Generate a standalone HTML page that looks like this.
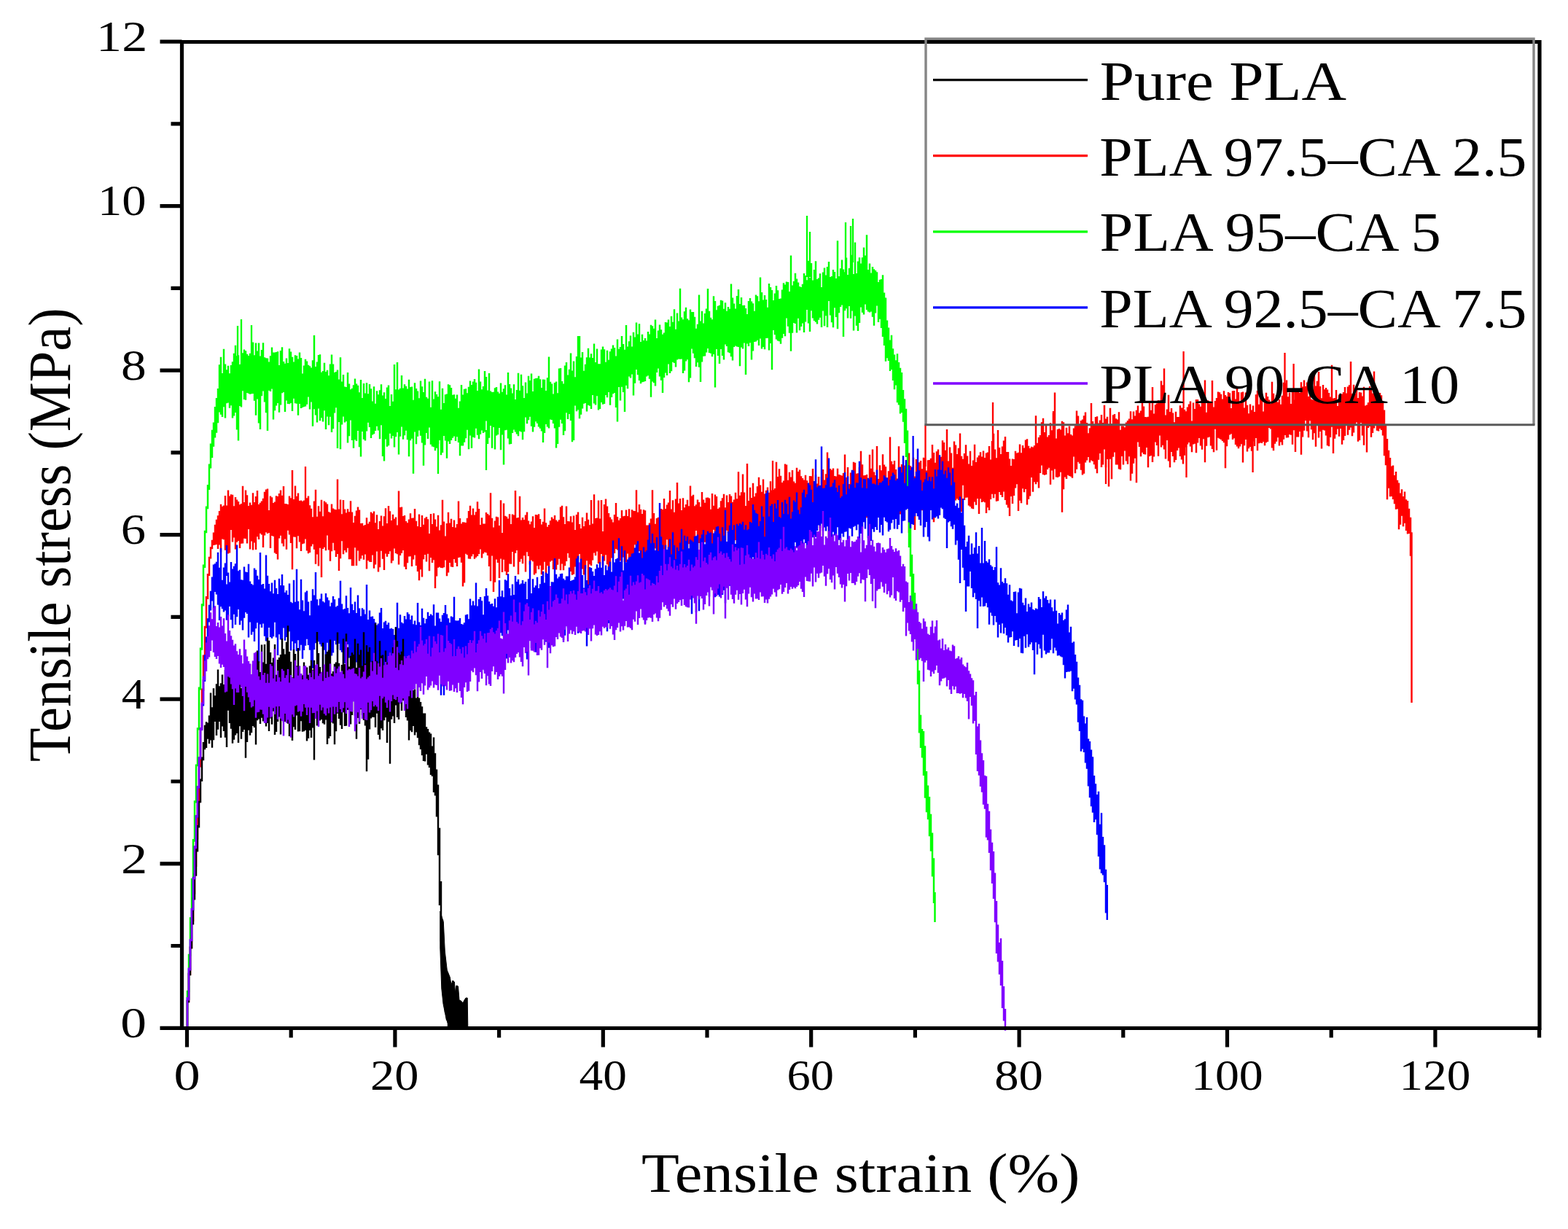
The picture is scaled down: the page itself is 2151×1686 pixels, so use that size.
<!DOCTYPE html>
<html><head><meta charset="utf-8"><title>Tensile stress-strain curves</title>
<style>html,body{margin:0;padding:0;background:#fff;} svg{display:block} text{font-family:"Liberation Serif","DejaVu Serif",serif;font-size:100px;fill:#000}</style>
</head><body>
<svg width="2151" height="1686" viewBox="0 0 2151 1686">
<rect width="2151" height="1686" fill="#fff"/>
<g><path fill="none" stroke="#ff0000" stroke-width="2.45" d="M257.0 1371.6V1411.3M259.0 1335.2V1375.0M261.0 1298.5V1338.1M263.0 1261.1V1301.3M265.0 1223.7V1264.3M267.0 1186.2V1226.7M269.0 1148.3V1188.9M271.0 1098.4V1151.8M273.0 1048.7V1101.8M275.0 998.2V1052.4M277.0 944.4V1001.4M279.0 898.4V948.0M281.0 858.7V902.0M283.0 818.1V861.8M285.0 787.1V822.0M287.0 763.7V789.9M289.0 750.3V766.6M291.0 740.7V753.2M293.0 730.5V748.0M295.0 719.8V747.4M297.0 712.8V746.9M299.0 707.3V753.0M301.0 701.0V747.6M303.0 691.8V757.5M305.0 694.8V739.5M307.0 693.4V740.2M309.0 680.0V754.7M311.0 693.6V752.2M313.0 672.5V759.6M315.0 680.6V758.6M317.0 678.2V727.1M319.0 678.7V743.6M321.0 694.2V737.6M323.0 682.0V753.6M325.0 685.6V743.8M327.0 688.1V742.0M329.0 692.2V752.0M331.0 691.1V745.8M333.0 666.8V745.6M335.0 688.9V738.8M337.0 672.6V739.1M339.0 679.2V745.5M341.0 693.9V725.9M343.0 689.6V753.6M345.0 692.7V742.4M347.0 676.2V754.5M349.0 689.1V744.5M351.0 681.1V754.1M353.0 673.1V736.3M355.0 692.0V740.1M357.0 689.7V731.7M359.0 687.4V733.4M361.0 683.8V750.9M363.0 674.7V734.4M365.0 671.4V730.2M367.0 670.6V732.1M369.0 700.1V731.0M371.0 680.4V752.1M373.0 682.2V734.9M375.0 690.1V735.8M377.0 688.4V758.5M379.0 680.3V760.0M381.0 681.1V767.6M383.0 677.0V738.6M385.0 672.4V734.7M387.0 679.7V745.6M389.0 667.1V749.4M391.0 691.0V739.5M393.0 691.3V753.8M395.0 691.9V727.7M397.0 680.5V733.6M399.0 683.3V744.9M401.0 645.1V781.2M403.0 685.0V736.4M405.0 666.5V736.7M407.0 680.8V752.2M409.0 676.5V735.2M411.0 686.9V743.4M413.0 686.4V755.9M415.0 687.8V746.2M417.0 686.5V745.4M419.0 688.5V739.5M421.0 683.3V755.6M423.0 680.4V759.2M425.0 693.3V758.1M427.0 697.7V749.6M429.0 709.3V746.6M431.0 687.5V753.8M433.0 671.7V773.7M435.0 708.8V760.4M437.0 694.2V776.5M439.0 701.7V751.8M441.0 685.8V791.9M443.0 708.3V753.0M445.0 687.5V750.7M447.0 689.2V755.2M449.0 691.5V734.5M451.0 702.2V754.6M453.0 703.3V769.8M455.0 691.6V756.2M457.0 697.6V744.7M459.0 698.7V755.1M461.0 699.3V764.0M463.0 657.5V760.0M465.0 698.4V783.1M467.0 685.5V766.2M469.0 705.2V742.2M471.0 686.0V760.3M473.0 698.5V754.9M475.0 703.5V757.7M477.0 698.3V751.8M479.0 702.3V767.3M481.0 687.2V767.3M483.0 702.4V776.3M485.0 717.1V776.2M487.0 707.8V751.3M489.0 700.4V776.0M491.0 695.5V755.4M493.0 699.5V769.4M495.0 717.9V766.6M497.0 717.8V762.0M499.0 721.1V767.8M501.0 720.1V760.5M503.0 710.2V780.5M505.0 718.6V769.0M507.0 715.8V770.7M509.0 702.4V771.1M511.0 704.2V761.6M513.0 701.4V779.7M515.0 717.2V774.4M517.0 706.3V756.5M519.0 726.0V784.6M521.0 715.0V778.3M523.0 707.4V755.8M525.0 721.5V766.7M527.0 708.2V782.1M529.0 697.2V759.5M531.0 717.9V763.8M533.0 694.0V760.0M535.0 701.2V756.2M537.0 714.1V772.6M539.0 705.8V769.2M541.0 711.7V752.5M543.0 709.6V759.0M545.0 720.4V760.3M547.0 673.4V774.4M549.0 696.1V761.9M551.0 695.6V758.7M553.0 708.0V754.9M555.0 707.1V777.6M557.0 715.1V780.9M559.0 717.2V772.2M561.0 712.4V763.6M563.0 704.2V763.3M565.0 710.8V777.1M567.0 710.6V767.4M569.0 698.1V761.6M571.0 714.8V776.0M573.0 722.0V784.1M575.0 705.6V796.2M577.0 723.1V781.3M579.0 707.0V791.5M581.0 719.8V767.2M583.0 710.7V760.9M585.0 708.9V770.6M587.0 712.2V759.7M589.0 732.1V783.3M591.0 704.9V765.0M593.0 718.9V772.1M595.0 704.3V768.3M597.0 712.4V807.0M599.0 722.5V790.5M601.0 706.8V778.7M603.0 727.4V777.7M605.0 720.2V779.1M607.0 685.8V779.2M609.0 715.4V778.3M611.0 735.6V768.5M613.0 718.0V790.3M615.0 702.8V785.5M617.0 717.4V772.1M619.0 711.7V777.5M621.0 722.9V778.0M623.0 713.5V766.9M625.0 723.8V771.9M627.0 719.1V776.9M629.0 687.5V764.9M631.0 711.0V764.5M633.0 718.4V771.8M635.0 716.2V804.4M637.0 716.5V799.5M639.0 717.1V759.7M641.0 710.7V761.3M643.0 701.0V766.6M645.0 693.7V766.7M647.0 706.4V763.3M649.0 697.6V760.2M651.0 706.6V766.8M653.0 702.3V764.7M655.0 688.3V763.1M657.0 698.1V760.1M659.0 720.1V753.4M661.0 710.3V765.5M663.0 718.4V759.6M665.0 718.6V757.4M667.0 703.1V758.2M669.0 704.9V762.1M671.0 706.7V776.9M673.0 676.3V797.3M675.0 710.8V762.5M677.0 723.6V811.9M679.0 714.4V798.7M681.0 708.8V767.6M683.0 709.4V771.9M685.0 721.0V793.0M687.0 686.3V766.4M689.0 731.0V785.1M691.0 690.6V767.8M693.0 707.8V783.7M695.0 708.7V789.1M697.0 711.5V784.8M699.0 705.2V773.5M701.0 719.0V773.8M703.0 705.6V757.0M705.0 706.5V777.6M707.0 673.1V758.8M709.0 710.6V754.9M711.0 710.1V787.9M713.0 680.8V770.8M715.0 713.4V766.8M717.0 710.1V773.3M719.0 713.1V762.3M721.0 706.6V784.6M723.0 702.4V757.2M725.0 714.6V763.1M727.0 719.2V774.4M729.0 715.6V768.5M731.0 708.3V770.3M733.0 724.0V788.5M735.0 706.0V786.4M737.0 706.5V776.3M739.0 705.2V781.0M741.0 711.9V775.8M743.0 719.4V788.3M745.0 715.8V781.8M747.0 697.6V770.7M749.0 717.2V791.2M751.0 722.7V775.9M753.0 720.0V777.9M755.0 714.3V770.5M757.0 709.5V769.0M759.0 711.7V781.1M761.0 707.0V770.3M763.0 713.5V781.5M765.0 715.5V774.7M767.0 713.3V766.7M769.0 695.6V782.2M771.0 693.7V773.4M773.0 709.3V782.3M775.0 719.1V776.2M777.0 694.5V769.9M779.0 714.9V758.9M781.0 715.2V765.2M783.0 708.2V784.0M785.0 716.5V788.8M787.0 707.6V787.8M789.0 726.9V777.5M791.0 705.9V795.9M793.0 702.6V767.0M795.0 718.9V760.1M797.0 725.1V781.3M799.0 709.8V780.6M801.0 722.1V788.5M803.0 715.1V779.8M805.0 703.5V769.2M807.0 712.8V811.1M809.0 720.3V774.3M811.0 686.0V775.9M813.0 718.4V768.4M815.0 678.2V758.6M817.0 710.9V762.3M819.0 710.4V756.4M821.0 686.5V773.0M823.0 711.5V773.6M825.0 686.0V759.9M827.0 729.0V775.8M829.0 692.1V769.5M831.0 684.4V761.3M833.0 694.6V774.3M835.0 703.9V799.1M837.0 709.5V782.8M839.0 712.4V765.4M841.0 716.4V765.4M843.0 705.9V759.0M845.0 690.1V753.1M847.0 708.9V754.6M849.0 713.8V770.3M851.0 711.0V769.3M853.0 699.9V782.8M855.0 708.2V764.5M857.0 707.8V771.1M859.0 699.4V771.0M861.0 707.9V759.4M863.0 698.3V775.0M865.0 709.8V770.8M867.0 699.3V761.9M869.0 700.8V767.4M871.0 701.0V747.2M873.0 672.3V783.6M875.0 702.7V770.0M877.0 692.0V756.3M879.0 698.8V755.8M881.0 704.9V773.0M883.0 699.2V767.9M885.0 700.3V770.5M887.0 720.5V794.7M889.0 720.5V760.5M891.0 717.5V776.0M893.0 711.4V757.7M895.0 672.2V762.9M897.0 704.1V780.0M899.0 718.8V752.2M901.0 711.1V792.0M903.0 709.7V759.9M905.0 711.7V752.4M907.0 698.1V779.4M909.0 698.9V750.7M911.0 684.0V786.6M913.0 698.0V765.4M915.0 692.6V740.2M917.0 689.6V791.3M919.0 672.9V764.4M921.0 698.4V785.3M923.0 686.2V776.5M925.0 702.8V752.0M927.0 684.5V767.5M929.0 662.1V768.5M931.0 690.4V784.5M933.0 683.9V771.5M935.0 700.0V753.8M937.0 683.3V754.6M939.0 696.3V761.5M941.0 692.0V750.4M943.0 685.7V756.2M945.0 694.2V746.2M947.0 666.6V755.3M949.0 680.6V743.0M951.0 678.8V745.3M953.0 694.3V748.2M955.0 692.2V727.9M957.0 685.4V755.7M959.0 688.9V745.1M961.0 695.2V756.2M963.0 674.9V746.9M965.0 685.5V740.6M967.0 689.7V743.7M969.0 682.7V742.7M971.0 682.4V744.4M973.0 683.4V748.9M975.0 698.8V742.7M977.0 676.9V763.8M979.0 693.8V726.8M981.0 678.4V750.4M983.0 680.9V757.4M985.0 698.0V758.7M987.0 696.2V746.4M989.0 687.3V748.9M991.0 683.2V741.5M993.0 677.7V741.0M995.0 696.2V750.1M997.0 679.4V727.8M999.0 689.0V731.0M1001.0 677.9V736.6M1003.0 680.5V744.2M1005.0 688.8V740.1M1007.0 685.5V742.7M1009.0 675.8V740.9M1011.0 684.3V749.0M1013.0 647.2V738.5M1015.0 679.7V743.4M1017.0 675.3V746.6M1019.0 650.6V735.4M1021.0 675.5V729.6M1023.0 694.0V736.6M1025.0 635.9V743.2M1027.0 686.9V744.5M1029.0 668.8V729.7M1031.0 683.0V734.8M1033.0 662.7V735.1M1035.0 681.3V769.0M1037.0 676.5V735.8M1039.0 667.2V751.1M1041.0 654.7V743.4M1043.0 665.6V735.0M1045.0 674.8V724.9M1047.0 657.4V738.2M1049.0 677.6V749.3M1051.0 672.7V729.3M1053.0 668.5V745.2M1055.0 675.7V748.4M1057.0 660.3V733.0M1059.0 672.6V712.3M1061.0 672.0V742.8M1063.0 670.0V725.3M1065.0 633.8V728.4M1067.0 654.1V725.9M1069.0 643.3V714.4M1071.0 652.7V758.8M1073.0 661.9V719.4M1075.0 659.5V730.1M1077.0 636.6V715.8M1079.0 637.6V717.2M1081.0 658.7V711.8M1083.0 647.7V720.4M1085.0 654.5V721.0M1087.0 644.9V729.9M1089.0 660.4V716.2M1091.0 662.8V727.4M1093.0 641.7V718.0M1095.0 647.0V707.3M1097.0 644.6V716.1M1099.0 653.2V720.2M1101.0 656.0V704.0M1103.0 658.5V717.1M1105.0 651.8V716.5M1107.0 659.3V716.3M1109.0 663.1V730.2M1111.0 653.0V720.4M1113.0 653.2V736.6M1115.0 642.9V718.2M1117.0 660.7V726.5M1119.0 651.2V721.8M1121.0 663.6V716.7M1123.0 654.1V719.2M1125.0 665.8V745.0M1127.0 653.9V716.9M1129.0 643.9V715.2M1131.0 658.5V703.7M1133.0 650.3V706.1M1135.0 620.6V715.0M1137.0 658.9V756.2M1139.0 642.9V689.0M1141.0 644.8V700.0M1143.0 642.5V699.4M1145.0 652.9V719.2M1147.0 653.5V708.1M1149.0 642.8V708.5M1151.0 650.9V704.0M1153.0 651.7V716.5M1155.0 652.4V691.7M1157.0 649.1V716.5M1159.0 623.4V707.5M1161.0 655.1V699.9M1163.0 640.9V706.2M1165.0 664.0V700.3M1167.0 648.6V694.6M1169.0 645.7V699.9M1171.0 633.7V718.7M1173.0 634.8V699.2M1175.0 649.8V704.4M1177.0 649.2V717.2M1179.0 640.9V712.2M1181.0 618.7V710.1M1183.0 637.3V692.2M1185.0 652.2V712.2M1187.0 652.0V703.6M1189.0 650.9V710.3M1191.0 662.2V690.3M1193.0 623.8V700.5M1195.0 642.7V695.7M1197.0 616.5V692.1M1199.0 647.4V707.4M1201.0 652.0V689.6M1203.0 612.1V693.9M1205.0 657.0V688.1M1207.0 638.2V705.1M1209.0 645.3V706.7M1211.0 623.3V703.0M1213.0 637.4V698.3M1215.0 640.2V702.7M1217.0 657.8V708.3M1219.0 646.2V689.8M1221.0 599.6V712.8M1223.0 632.7V705.0M1225.0 636.9V700.7M1227.0 632.0V711.2M1229.0 643.9V702.7M1231.0 656.5V709.0M1233.0 612.3V699.9M1235.0 640.5V705.4M1237.0 637.0V686.1M1239.0 651.5V697.2M1241.0 638.4V692.0M1243.0 631.0V697.8M1245.0 643.6V688.6M1247.0 621.4V731.0M1249.0 639.2V710.1M1251.0 644.2V708.8M1253.0 627.7V693.4M1255.0 653.4V727.0M1257.0 629.9V694.3M1259.0 635.8V681.6M1261.0 634.3V710.2M1263.0 632.1V690.5M1265.0 643.3V700.2M1267.0 627.7V680.0M1269.0 628.6V677.7M1271.0 645.5V687.8M1273.0 631.3V690.5M1275.0 631.0V680.3M1277.0 628.7V684.2M1279.0 609.9V676.8M1281.0 621.0V716.3M1283.0 634.8V679.0M1285.0 619.3V683.2M1287.0 616.4V671.0M1289.0 635.1V679.7M1291.0 626.8V693.5M1293.0 604.2V681.7M1295.0 607.1V671.3M1297.0 617.7V682.5M1299.0 588.9V675.5M1301.0 632.4V694.4M1303.0 613.5V699.0M1305.0 621.5V676.8M1307.0 641.7V698.8M1309.0 605.4V679.0M1311.0 610.6V686.4M1313.0 622.9V684.2M1315.0 614.7V685.9M1317.0 594.4V687.0M1319.0 625.8V702.3M1321.0 629.7V665.7M1323.0 621.9V686.0M1325.0 610.2V682.8M1327.0 625.4V682.4M1329.0 636.5V693.5M1331.0 618.7V695.1M1333.0 639.1V697.5M1335.0 631.4V698.2M1337.0 609.7V688.5M1339.0 634.1V692.7M1341.0 627.6V684.1M1343.0 624.8V705.1M1345.0 620.3V684.3M1347.0 626.4V688.9M1349.0 618.4V688.1M1351.0 628.1V689.3M1353.0 621.4V704.1M1355.0 620.4V696.2M1357.0 612.1V699.9M1359.0 630.6V685.0M1361.0 605.0V677.8M1363.0 594.7V683.3M1365.0 616.4V677.7M1367.0 628.2V687.7M1369.0 590.0V687.2M1371.0 614.0V674.9M1373.0 622.9V679.1M1375.0 612.6V682.1M1377.0 604.4V674.4M1379.0 599.1V686.1M1381.0 620.0V692.5M1383.0 620.0V696.5M1385.0 629.5V707.9M1387.0 639.1V681.1M1389.0 629.4V691.1M1391.0 630.0V679.9M1393.0 618.7V669.5M1395.0 621.5V664.2M1397.0 620.8V701.1M1399.0 609.4V686.8M1401.0 621.2V690.2M1403.0 611.0V670.2M1405.0 614.5V675.3M1407.0 603.4V671.0M1409.0 602.2V692.5M1411.0 611.8V684.7M1413.0 614.9V680.4M1415.0 612.7V655.1M1417.0 613.5V674.7M1419.0 611.3V661.3M1421.0 570.2V664.2M1423.0 607.8V661.3M1425.0 599.9V669.5M1427.0 597.1V649.0M1429.0 579.3V638.6M1431.0 573.7V651.0M1433.0 593.1V651.8M1435.0 583.1V651.1M1437.0 599.6V643.9M1439.0 596.9V641.7M1441.0 580.2V664.7M1443.0 590.3V645.5M1445.0 566.4V657.8M1447.0 538.4V643.4M1449.0 601.4V654.5M1451.0 589.1V654.9M1453.0 588.1V653.8M1455.0 589.4V647.7M1457.0 577.8V702.7M1459.0 579.3V671.3M1461.0 597.4V654.6M1463.0 586.8V657.0M1465.0 594.3V651.7M1467.0 584.5V653.0M1469.0 596.1V653.7M1471.0 597.4V655.7M1473.0 587.6V626.5M1475.0 584.3V649.2M1477.0 563.5V643.7M1479.0 570.6V633.8M1481.0 581.7V635.9M1483.0 577.1V644.7M1485.0 575.6V651.5M1487.0 570.2V649.8M1489.0 565.4V634.5M1491.0 580.0V631.6M1493.0 594.2V626.9M1495.0 587.2V634.4M1497.0 553.0V631.5M1499.0 577.9V632.8M1501.0 582.1V637.2M1503.0 572.0V643.2M1505.0 571.2V649.2M1507.0 580.4V630.8M1509.0 576.4V621.9M1511.0 569.1V641.0M1513.0 579.9V637.4M1515.0 555.7V616.5M1517.0 574.4V641.3M1519.0 571.7V630.0M1521.0 582.6V667.4M1523.0 559.7V629.7M1525.0 581.6V657.2M1527.0 569.2V626.7M1529.0 568.0V620.4M1531.0 574.3V637.6M1533.0 575.4V637.5M1535.0 565.2V643.6M1537.0 589.8V644.2M1539.0 584.2V626.0M1541.0 584.5V637.4M1543.0 586.2V618.6M1545.0 579.5V632.6M1547.0 577.1V636.7M1549.0 574.4V626.2M1551.0 564.3V659.4M1553.0 575.3V649.7M1555.0 564.6V635.7M1557.0 570.5V628.8M1559.0 562.7V662.3M1561.0 556.6V606.4M1563.0 566.4V612.9M1565.0 563.6V626.3M1567.0 542.8V620.8M1569.0 557.4V622.9M1571.0 572.1V623.5M1573.0 572.2V613.9M1575.0 571.7V641.2M1577.0 552.0V625.9M1579.0 562.7V625.1M1581.0 531.0V634.0M1583.0 567.6V626.4M1585.0 555.2V606.4M1587.0 553.6V611.0M1589.0 549.3V625.7M1591.0 551.7V597.5M1593.0 522.4V613.5M1595.0 528.3V610.7M1597.0 505.6V616.5M1599.0 569.6V629.6M1601.0 561.6V603.9M1603.0 541.8V632.6M1605.0 564.9V641.2M1607.0 560.1V620.0M1609.0 566.6V626.1M1611.0 579.2V634.3M1613.0 564.7V630.9M1615.0 572.0V618.1M1617.0 572.1V614.4M1619.0 556.2V626.0M1621.0 559.4V630.4M1623.0 559.5V636.5M1625.0 561.8V624.8M1627.0 564.2V613.6M1629.0 558.5V609.6M1631.0 554.6V607.1M1633.0 550.5V612.4M1635.0 577.4V620.3M1637.0 552.5V609.4M1639.0 561.1V608.8M1641.0 548.0V621.2M1643.0 547.9V607.4M1645.0 554.4V601.1M1647.0 557.8V611.4M1649.0 534.5V616.8M1651.0 551.6V602.3M1653.0 521.4V634.2M1655.0 565.7V611.8M1657.0 549.2V600.3M1659.0 552.1V599.6M1661.0 551.7V611.5M1663.0 522.1V616.1M1665.0 558.4V620.2M1667.0 550.1V588.8M1669.0 546.0V617.8M1671.0 537.5V600.7M1673.0 538.2V601.7M1675.0 540.7V603.1M1677.0 547.6V605.0M1679.0 536.2V607.3M1681.0 542.0V642.2M1683.0 543.9V612.3M1685.0 538.1V602.9M1687.0 539.2V596.4M1689.0 560.1V595.2M1691.0 536.3V602.9M1693.0 536.0V601.2M1695.0 547.6V610.1M1697.0 532.1V612.6M1699.0 538.1V615.2M1701.0 553.7V612.6M1703.0 538.3V609.3M1705.0 537.6V634.4M1707.0 559.4V611.2M1709.0 538.4V602.9M1711.0 555.7V619.6M1713.0 567.2V615.2M1715.0 554.4V613.0M1717.0 562.6V618.8M1719.0 556.5V605.4M1721.0 564.9V612.0M1723.0 541.3V600.9M1725.0 535.7V618.2M1727.0 554.7V608.2M1729.0 539.6V607.4M1731.0 546.6V607.9M1733.0 564.6V606.0M1735.0 546.7V611.3M1737.0 538.7V607.2M1739.0 544.1V606.0M1741.0 548.6V586.9M1743.0 554.1V588.4M1745.0 523.8V614.5M1747.0 539.7V618.2M1749.0 551.8V608.8M1751.0 541.8V605.8M1753.0 551.7V600.2M1755.0 548.0V611.5M1757.0 554.7V606.6M1759.0 542.7V610.4M1761.0 524.7V602.7M1763.0 525.6V596.9M1765.0 521.5V600.5M1767.0 544.3V600.2M1769.0 538.6V596.0M1771.0 554.0V596.8M1773.0 532.9V609.8M1775.0 548.4V590.3M1777.0 537.2V620.0M1779.0 535.8V599.4M1781.0 533.4V599.6M1783.0 538.7V591.9M1785.0 524.3V623.7M1787.0 530.6V599.4M1789.0 521.6V590.7M1791.0 530.0V577.1M1793.0 524.5V591.5M1795.0 544.0V600.3M1797.0 524.4V577.2M1799.0 547.7V589.2M1801.0 548.6V603.2M1803.0 512.5V594.2M1805.0 529.6V612.8M1807.0 522.7V583.1M1809.0 510.0V600.5M1811.0 530.1V591.9M1813.0 546.2V615.5M1815.0 527.9V589.7M1817.0 534.2V590.4M1819.0 531.9V597.4M1821.0 534.5V611.2M1823.0 539.0V612.2M1825.0 544.5V599.9M1827.0 500.8V585.8M1829.0 546.4V622.0M1831.0 546.0V601.7M1833.0 535.0V596.1M1835.0 557.1V588.4M1837.0 541.4V598.7M1839.0 550.4V588.0M1841.0 540.4V609.8M1843.0 538.1V603.9M1845.0 530.9V598.0M1847.0 539.5V583.0M1849.0 530.4V596.7M1851.0 528.3V589.7M1853.0 496.1V586.6M1855.0 540.0V598.2M1857.0 527.8V593.6M1859.0 540.1V582.5M1861.0 529.5V579.4M1863.0 545.9V605.8M1865.0 538.1V604.1M1867.0 538.5V579.9M1869.0 543.4V597.4M1871.0 530.7V610.7M1873.0 556.4V583.1M1875.0 555.5V620.5M1877.0 552.2V587.0M1879.0 530.1V584.9M1881.0 534.7V599.8M1883.0 539.4V594.0M1885.0 509.6V587.6M1887.0 540.1V582.1M1889.0 533.4V590.8M1891.0 544.1V591.6M1893.0 539.0V587.9M1895.0 542.3V590.0M1897.0 550.2V597.6M1899.0 562.6V625.3M1901.0 582.3V638.3M1903.0 602.0V685.3M1905.0 617.8V669.8M1907.0 628.1V681.2M1909.0 639.5V681.1M1911.0 638.4V684.9M1913.0 652.1V691.2M1915.0 647.0V698.7M1917.0 658.8V698.2M1919.0 662.5V726.3M1921.0 676.6V719.7M1923.0 671.3V707.8M1925.0 681.0V722.2M1927.0 674.5V717.8M1929.0 685.2V728.0M1931.0 686.9V732.4M1933.0 697.8V731.9M1935.0 709.8V762.8M1936.5 730.2V964.0"/><path fill="none" stroke="#ff0000" stroke-width="2.3" d="M1362 552V620M1623.6 482V560M1762.5 484V550M1774.6 499V550M1445 564V600M1269.5 583V640M1627.5 655V600M1718.6 648V600M1517 664V620M419 640V700M1060 632V680"/><path fill="none" stroke="#00ff00" stroke-width="2.45" d="M257.0 1358.7V1411.3M259.0 1308.7V1361.3M261.0 1258.3V1311.7M263.0 1205.1V1261.8M265.0 1151.1V1208.4M267.0 1098.3V1154.7M269.0 1048.4V1101.4M271.0 998.2V1051.3M273.0 942.6V1001.5M275.0 888.4V946.5M277.0 828.3V891.7M279.0 774.6V831.5M281.0 727.7V779.1M283.0 694.6V731.3M285.0 665.1V698.3M287.0 636.5V671.9M289.0 608.6V642.5M291.0 589.7V628.0M293.0 579.5V612.8M295.0 558.0V600.6M297.0 546.1V593.8M299.0 532.9V580.2M301.0 500.3V565.5M303.0 489.7V568.7M305.0 512.0V571.9M307.0 478.8V558.2M309.0 499.4V573.5M311.0 507.2V553.3M313.0 501.7V552.4M315.0 512.3V559.7M317.0 501.0V556.2M319.0 496.3V573.4M321.0 484.7V570.6M323.0 473.7V565.9M325.0 488.2V589.6M327.0 487.2V604.4M329.0 500.0V556.9M331.0 498.7V558.5M333.0 484.2V536.2M335.0 479.4V547.9M337.0 481.3V548.7M339.0 485.7V539.0M341.0 488.0V539.8M343.0 484.7V540.8M345.0 489.1V540.2M347.0 469.4V540.1M349.0 487.2V549.8M351.0 470.5V569.8M353.0 481.4V547.6M355.0 470.4V580.4M357.0 488.5V589.0M359.0 480.0V543.2M361.0 470.3V536.5M363.0 490.2V551.5M365.0 491.2V566.2M367.0 491.5V590.9M369.0 496.4V535.7M371.0 488.3V537.0M373.0 476.6V533.5M375.0 483.5V575.6M377.0 483.4V563.2M379.0 483.0V556.5M381.0 482.3V553.0M383.0 501.0V565.7M385.0 480.9V555.6M387.0 476.2V539.2M389.0 496.0V538.0M391.0 498.7V565.0M393.0 491.4V549.5M395.0 498.0V554.0M397.0 478.2V554.2M399.0 482.4V553.1M401.0 489.7V564.0M403.0 496.5V546.7M405.0 487.2V553.3M407.0 488.0V553.8M409.0 492.5V569.8M411.0 483.5V553.9M413.0 491.1V560.1M415.0 512.4V559.0M417.0 501.4V558.0M419.0 492.8V557.4M421.0 495.5V554.7M423.0 500.7V544.5M425.0 502.2V561.5M427.0 504.6V551.5M429.0 494.2V584.8M431.0 459.9V561.2M433.0 502.9V569.6M435.0 496.6V579.5M437.0 487.1V560.4M439.0 486.2V577.2M441.0 510.7V573.2M443.0 509.1V578.6M445.0 497.7V563.2M447.0 510.1V589.0M449.0 507.8V571.6M451.0 515.2V583.2M453.0 499.5V571.8M455.0 486.4V592.9M457.0 499.5V588.3M459.0 511.1V566.5M461.0 510.1V559.2M463.0 507.6V614.9M465.0 520.4V579.1M467.0 490.2V616.2M469.0 523.4V582.4M471.0 514.1V571.6M473.0 530.4V579.4M475.0 530.9V578.1M477.0 511.0V607.5M479.0 526.4V598.3M481.0 534.2V576.6M483.0 532.7V604.0M485.0 528.3V614.8M487.0 519.6V603.2M489.0 526.4V605.1M491.0 528.8V591.0M493.0 538.2V613.2M495.0 521.0V626.5M497.0 546.1V591.9M499.0 526.0V602.8M501.0 539.4V604.5M503.0 525.3V591.4M505.0 540.2V579.7M507.0 527.0V585.9M509.0 533.2V601.1M511.0 550.6V596.4M513.0 530.2V595.3M515.0 553.8V591.0M517.0 536.3V584.7M519.0 541.3V590.4M521.0 535.2V602.3M523.0 527.3V583.2M525.0 542.6V626.1M527.0 538.3V632.5M529.0 546.9V602.4M531.0 531.6V612.7M533.0 528.6V611.2M535.0 557.0V594.8M537.0 540.9V601.4M539.0 550.8V598.1M541.0 500.1V613.6M543.0 534.2V599.2M545.0 497.0V593.1M547.0 534.6V623.5M549.0 532.8V598.7M551.0 515.1V585.5M553.0 532.4V602.8M555.0 527.3V597.3M557.0 529.8V590.8M559.0 533.6V603.2M561.0 520.7V626.2M563.0 531.1V604.2M565.0 530.5V601.7M567.0 548.8V649.7M569.0 525.2V592.5M571.0 533.0V609.2M573.0 536.6V598.7M575.0 546.3V590.4M577.0 522.6V597.7M579.0 530.3V607.6M581.0 537.9V638.7M583.0 519.8V610.5M585.0 544.8V593.9M587.0 546.8V602.0M589.0 523.4V586.4M591.0 558.8V609.7M593.0 522.3V612.4M595.0 547.6V613.3M597.0 537.2V618.3M599.0 541.0V614.8M601.0 544.3V608.9M603.0 523.3V603.9M605.0 561.7V624.2M607.0 532.8V620.9M609.0 553.1V598.1M611.0 541.3V604.5M613.0 540.6V628.8M615.0 527.3V605.4M617.0 528.3V609.1M619.0 532.0V604.1M621.0 541.7V600.8M623.0 541.3V598.6M625.0 546.8V605.1M627.0 541.6V599.3M629.0 559.8V607.1M631.0 550.5V625.3M633.0 528.1V611.4M635.0 541.6V611.5M637.0 533.8V606.7M639.0 533.3V601.2M641.0 539.2V589.8M643.0 530.8V616.3M645.0 522.6V597.4M647.0 528.1V614.8M649.0 523.4V599.7M651.0 520.0V600.4M653.0 524.7V587.8M655.0 535.9V596.7M657.0 506.6V602.3M659.0 523.5V595.7M661.0 534.3V590.4M663.0 530.1V594.0M665.0 509.1V592.5M667.0 517.0V577.5M669.0 535.5V609.1M671.0 512.1V600.7M673.0 536.5V584.0M675.0 538.1V614.8M677.0 537.8V586.0M679.0 532.3V616.4M681.0 531.1V597.6M683.0 537.5V596.2M685.0 539.7V586.9M687.0 525.6V617.3M689.0 537.8V596.5M691.0 533.2V637.6M693.0 528.2V590.3M695.0 541.4V589.8M697.0 511.0V601.5M699.0 527.1V609.5M701.0 532.6V609.0M703.0 539.6V594.1M705.0 527.3V589.6M707.0 548.0V592.4M709.0 534.9V595.4M711.0 511.8V598.3M713.0 535.8V591.6M715.0 513.8V592.4M717.0 529.3V603.2M719.0 546.1V592.3M721.0 524.4V572.6M723.0 539.6V581.3M725.0 515.8V576.3M727.0 522.0V571.8M729.0 512.6V584.8M731.0 537.0V592.4M733.0 519.7V585.8M735.0 519.0V578.3M737.0 518.8V580.7M739.0 515.7V585.6M741.0 520.2V587.7M743.0 531.9V591.5M745.0 520.5V607.1M747.0 520.7V594.1M749.0 536.0V582.1M751.0 518.3V585.5M753.0 489.5V587.5M755.0 523.7V575.6M757.0 526.6V575.9M759.0 540.4V581.1M761.0 524.9V587.6M763.0 523.6V614.4M765.0 539.3V609.1M767.0 505.6V585.8M769.0 504.9V575.7M771.0 523.0V581.0M773.0 526.4V597.1M775.0 501.5V591.2M777.0 496.9V566.2M779.0 514.6V574.9M781.0 506.7V568.0M783.0 484.5V576.9M785.0 508.6V606.3M787.0 495.5V604.1M789.0 517.3V556.6M791.0 489.0V564.3M793.0 461.1V562.2M795.0 460.9V574.3M797.0 490.5V568.7M799.0 483.0V560.4M801.0 508.8V553.8M803.0 499.7V552.9M805.0 490.2V564.5M807.0 477.7V555.7M809.0 490.6V556.7M811.0 485.2V561.0M813.0 491.1V541.9M815.0 471.4V553.5M817.0 496.9V555.4M819.0 478.4V543.2M821.0 499.2V562.5M823.0 499.2V561.0M825.0 479.6V551.9M827.0 475.5V554.8M829.0 479.3V554.1M831.0 496.7V541.9M833.0 480.7V545.3M835.0 493.7V538.0M837.0 482.3V555.8M839.0 478.5V545.0M841.0 473.4V540.3M843.0 477.0V538.9M845.0 488.6V559.0M847.0 465.6V578.5M849.0 478.8V531.1M851.0 475.9V549.4M853.0 461.1V530.8M855.0 472.1V538.1M857.0 479.8V565.0M859.0 446.1V528.7M861.0 475.5V533.3M863.0 468.3V516.4M865.0 460.4V518.6M867.0 475.4V513.5M869.0 455.8V542.6M871.0 462.6V525.7M873.0 442.6V506.9M875.0 458.5V514.3M877.0 444.3V522.0M879.0 468.9V526.2M881.0 458.7V524.3M883.0 467.1V523.7M885.0 464.1V523.0M887.0 467.5V516.4M889.0 455.1V515.3M891.0 458.4V519.7M893.0 445.7V544.8M895.0 447.3V523.4M897.0 450.8V525.2M899.0 438.4V529.4M901.0 464.0V511.1M903.0 453.4V505.5M905.0 445.5V516.4M907.0 452.2V521.7M909.0 458.7V538.9M911.0 456.6V518.1M913.0 442.1V511.4M915.0 442.6V515.0M917.0 438.4V499.5M919.0 447.9V511.9M921.0 433.8V509.2M923.0 441.7V496.8M925.0 424.2V498.1M927.0 451.8V503.5M929.0 429.4V493.6M931.0 440.5V492.4M933.0 395.8V492.7M935.0 435.5V492.4M937.0 438.3V512.1M939.0 427.2V508.4M941.0 421.8V495.6M943.0 437.2V493.3M945.0 439.2V524.3M947.0 424.5V518.5M949.0 428.1V478.4M951.0 428.1V484.7M953.0 434.7V491.2M955.0 450.8V503.1M957.0 444.7V497.2M959.0 404.4V503.7M961.0 440.6V524.1M963.0 426.8V496.4M965.0 443.4V488.7M967.0 429.9V488.4M969.0 423.6V483.5M971.0 396.0V478.0M973.0 426.7V484.0M975.0 435.8V484.7M977.0 438.2V489.2M979.0 406.3V486.1M981.0 413.0V531.6M983.0 425.2V479.1M985.0 419.7V488.1M987.0 418.7V499.0M989.0 411.7V479.1M991.0 412.6V488.0M993.0 423.7V493.5M995.0 415.2V472.5M997.0 426.8V475.0M999.0 420.9V483.2M1001.0 423.8V484.3M1003.0 389.4V489.2M1005.0 408.5V494.5M1007.0 416.4V475.9M1009.0 423.4V474.4M1011.0 405.9V475.6M1013.0 396.9V476.0M1015.0 417.0V502.3M1017.0 408.1V476.4M1019.0 419.0V478.6M1021.0 418.8V470.4M1023.0 423.1V513.9M1025.0 431.1V471.4M1027.0 413.1V475.0M1029.0 408.9V470.2M1031.0 413.5V493.5M1033.0 416.3V481.4M1035.0 426.7V469.0M1037.0 404.4V468.5M1039.0 406.2V466.7M1041.0 413.3V473.9M1043.0 380.4V464.4M1045.0 401.1V478.4M1047.0 411.5V475.9M1049.0 404.9V479.3M1051.0 410.9V463.9M1053.0 421.7V463.8M1055.0 388.9V480.5M1057.0 393.9V471.0M1059.0 398.0V507.3M1061.0 412.1V453.1M1063.0 402.4V459.3M1065.0 392.1V465.6M1067.0 398.3V467.4M1069.0 409.9V468.2M1071.0 409.5V471.8M1073.0 397.4V463.7M1075.0 388.3V457.9M1077.0 390.6V461.2M1079.0 386.5V436.6M1081.0 387.1V447.8M1083.0 399.9V456.7M1085.0 350.5V481.8M1087.0 391.5V456.8M1089.0 385.7V443.1M1091.0 374.7V444.1M1093.0 382.5V456.5M1095.0 387.4V436.8M1097.0 392.9V453.2M1099.0 393.9V447.9M1101.0 389.7V443.6M1103.0 375.1V455.9M1105.0 378.1V441.4M1107.0 384.3V424.9M1109.0 357.7V443.5M1111.0 381.0V454.9M1113.0 360.9V426.2M1115.0 384.6V436.4M1117.0 370.1V440.1M1119.0 358.2V441.8M1121.0 383.1V444.4M1123.0 381.5V438.8M1125.0 375.2V435.7M1127.0 394.1V449.0M1129.0 373.5V426.6M1131.0 367.4V447.3M1133.0 377.4V433.3M1135.0 366.0V448.9M1137.0 358.9V412.9M1139.0 379.9V432.6M1141.0 379.0V442.3M1143.0 369.9V449.2M1145.0 372.9V422.2M1147.0 382.1V434.9M1149.0 330.3V451.3M1151.0 378.9V429.3M1153.0 368.3V420.9M1155.0 356.4V418.6M1157.0 369.4V462.1M1159.0 373.3V426.3M1161.0 353.5V423.3M1163.0 377.1V436.5M1165.0 367.9V420.1M1167.0 366.7V436.8M1169.0 349.8V426.6M1171.0 376.1V453.4M1173.0 332.5V433.4M1175.0 374.9V446.7M1177.0 358.4V454.0M1179.0 353.2V443.1M1181.0 361.6V421.6M1183.0 353.3V428.8M1185.0 339.5V431.6M1187.0 350.5V417.5M1189.0 322.3V425.1M1191.0 370.0V427.6M1193.0 361.5V428.5M1195.0 374.5V427.6M1197.0 366.1V434.7M1199.0 369.3V446.8M1201.0 371.1V429.5M1203.0 373.3V419.6M1205.0 387.0V442.0M1207.0 383.8V437.7M1209.0 383.0V450.1M1211.0 377.2V462.0M1213.0 401.5V474.1M1215.0 408.4V495.7M1217.0 439.6V491.3M1219.0 449.4V495.1M1221.0 466.5V509.1M1223.0 459.7V506.9M1225.0 478.2V522.1M1227.0 486.5V534.3M1229.0 494.3V528.6M1231.0 485.2V552.3M1233.0 497.1V555.5M1235.0 504.8V567.5M1237.0 511.0V565.9M1239.0 535.1V578.8M1241.0 547.3V608.0M1243.0 560.8V627.1M1245.0 590.5V690.7M1247.0 648.3V751.0M1249.0 716.4V790.9M1251.0 760.8V827.6M1253.0 786.9V843.7M1255.0 813.3V859.3M1257.0 835.2V880.5M1259.0 860.9V938.7M1261.0 919.7V1005.5M1263.0 980.8V1026.0M1265.0 1000.1V1039.4M1267.0 1002.9V1064.0M1269.0 1023.3V1094.8M1271.0 1058.0V1114.3M1273.0 1077.6V1124.2M1275.0 1092.9V1147.2M1277.0 1116.7V1167.8M1279.0 1142.6V1202.5M1281.0 1177.3V1239.1M1282.5 1224.0V1265.0"/><path fill="none" stroke="#00ff00" stroke-width="2.3" d="M326 447V500M331 438V500M345 446V500M1107 296V380M1111 318V380M1160 305V380M1167 310V380M601 650V590M667 645V590M1170 300V360"/><path fill="none" stroke="#0000ff" stroke-width="2.45" d="M257.0 1367.9V1411.5M259.0 1328.6V1371.8M261.0 1288.7V1331.3M263.0 1246.1V1291.6M265.0 1203.0V1249.4M267.0 1160.8V1206.6M269.0 1118.5V1164.2M271.0 1078.4V1121.5M273.0 1038.4V1081.5M275.0 998.4V1041.4M277.0 965.0V1001.4M279.0 932.1V968.4M281.0 898.3V935.0M283.0 873.5V901.7M285.0 848.2V876.7M287.0 829.8V853.4M289.0 810.8V837.5M291.0 791.6V824.5M293.0 774.5V836.6M295.0 773.2V812.1M297.0 770.8V815.6M299.0 757.7V829.7M301.0 778.7V851.0M303.0 751.9V832.3M305.0 795.7V835.3M307.0 778.4V839.6M309.0 772.6V837.5M311.0 801.4V850.7M313.0 785.6V845.6M315.0 798.5V832.1M317.0 771.1V850.3M319.0 780.6V861.7M321.0 776.8V842.8M323.0 773.2V857.0M325.0 747.4V846.3M327.0 783.2V836.1M329.0 781.8V857.3M331.0 795.3V851.5M333.0 795.8V864.5M335.0 777.5V847.8M337.0 784.4V840.0M339.0 785.0V842.0M341.0 773.7V874.5M343.0 797.5V853.6M345.0 801.1V870.8M347.0 802.5V866.7M349.0 779.5V880.0M351.0 781.8V862.2M353.0 789.7V854.2M355.0 794.9V909.1M357.0 758.1V856.4M359.0 802.1V860.9M361.0 800.9V855.6M363.0 807.5V872.7M365.0 761.4V879.4M367.0 789.8V875.8M369.0 801.1V860.9M371.0 811.2V873.9M373.0 799.5V875.7M375.0 814.3V873.2M377.0 795.7V853.7M379.0 806.9V874.6M381.0 815.0V899.1M383.0 793.8V870.2M385.0 803.0V877.6M387.0 787.9V876.9M389.0 803.3V861.5M391.0 812.8V878.8M393.0 810.1V874.0M395.0 816.0V867.3M397.0 800.6V866.3M399.0 825.8V892.6M401.0 827.3V879.8M403.0 795.8V891.7M405.0 825.7V882.4M407.0 780.7V893.2M409.0 824.7V878.2M411.0 836.3V892.5M413.0 794.7V884.8M415.0 823.6V903.8M417.0 838.3V891.9M419.0 812.4V885.8M421.0 810.6V876.8M423.0 825.5V885.1M425.0 844.2V891.8M427.0 824.2V906.4M429.0 808.2V916.7M431.0 816.5V891.2M433.0 785.0V882.3M435.0 822.2V876.7M437.0 830.6V880.3M439.0 821.5V883.8M441.0 814.6V886.8M443.0 825.0V916.1M445.0 826.6V891.7M447.0 814.1V917.3M449.0 819.6V881.8M451.0 823.5V899.9M453.0 831.8V888.5M455.0 826.7V899.5M457.0 818.1V895.4M459.0 822.3V879.0M461.0 832.5V884.2M463.0 830.9V890.8M465.0 820.4V883.0M467.0 796.7V892.0M469.0 828.5V894.8M471.0 835.9V926.2M473.0 835.0V910.0M475.0 817.2V901.7M477.0 833.9V884.1M479.0 841.3V902.6M481.0 806.0V901.7M483.0 828.8V896.0M485.0 836.9V899.8M487.0 825.4V939.7M489.0 840.9V908.4M491.0 816.6V911.8M493.0 834.5V914.9M495.0 845.2V903.3M497.0 834.2V917.5M499.0 836.2V927.7M501.0 842.6V912.0M503.0 801.9V897.1M505.0 849.9V906.0M507.0 837.5V917.3M509.0 846.0V959.9M511.0 845.5V918.5M513.0 849.0V909.8M515.0 853.8V916.0M517.0 857.5V909.8M519.0 855.5V927.3M521.0 840.6V908.7M523.0 833.9V919.3M525.0 861.9V919.7M527.0 853.5V917.4M529.0 851.7V914.2M531.0 856.9V924.6M533.0 854.2V900.5M535.0 862.6V901.6M537.0 861.7V912.1M539.0 862.9V915.7M541.0 871.0V928.9M543.0 860.1V916.4M545.0 826.8V929.8M547.0 861.8V914.4M549.0 843.2V912.8M551.0 853.7V909.5M553.0 855.3V909.2M555.0 844.9V921.1M557.0 849.5V911.1M559.0 839.9V921.3M561.0 842.4V928.6M563.0 849.9V914.8M565.0 844.5V907.7M567.0 856.2V911.8M569.0 851.4V912.8M571.0 857.2V931.0M573.0 827.0V908.2M575.0 853.4V903.6M577.0 857.7V922.7M579.0 834.7V907.2M581.0 847.7V938.2M583.0 855.3V923.0M585.0 849.0V908.9M587.0 839.7V904.2M589.0 845.0V921.0M591.0 842.6V902.9M593.0 844.2V914.0M595.0 829.2V900.5M597.0 858.6V919.9M599.0 840.5V910.6M601.0 840.5V914.8M603.0 848.6V907.2M605.0 853.1V953.7M607.0 843.7V903.2M609.0 841.1V953.8M611.0 830.1V912.4M613.0 842.6V920.9M615.0 848.2V900.0M617.0 854.2V927.6M619.0 845.5V921.4M621.0 846.5V913.1M623.0 818.8V917.7M625.0 851.2V924.8M627.0 851.4V917.5M629.0 851.2V929.0M631.0 848.1V911.6M633.0 855.9V935.2M635.0 856.8V916.0M637.0 854.2V907.9M639.0 843.5V906.8M641.0 842.8V907.9M643.0 849.2V899.6M645.0 821.5V896.8M647.0 830.5V892.9M649.0 824.6V883.7M651.0 830.5V900.7M653.0 799.5V900.2M655.0 831.4V884.5M657.0 822.0V897.9M659.0 819.0V874.6M661.0 824.3V891.5M663.0 843.2V911.1M665.0 818.1V920.7M667.0 807.1V910.5M669.0 817.3V885.8M671.0 825.3V932.1M673.0 828.7V885.6M675.0 828.0V883.8M677.0 831.7V888.7M679.0 821.3V878.3M681.0 833.2V883.6M683.0 818.7V865.5M685.0 796.1V872.8M687.0 818.3V868.3M689.0 810.3V872.3M691.0 819.3V859.8M693.0 795.2V871.9M695.0 796.4V903.6M697.0 787.3V864.6M699.0 806.9V870.2M701.0 817.0V850.1M703.0 801.4V855.2M705.0 816.1V862.3M707.0 790.0V863.0M709.0 798.1V894.7M711.0 794.8V870.5M713.0 801.7V864.3M715.0 800.6V859.7M717.0 795.9V866.4M719.0 800.8V853.4M721.0 798.1V854.8M723.0 822.1V904.4M725.0 794.2V874.3M727.0 769.4V859.8M729.0 814.1V889.3M731.0 794.3V851.2M733.0 805.9V874.9M735.0 803.3V894.8M737.0 791.8V878.7M739.0 807.0V859.4M741.0 801.2V869.2M743.0 789.9V871.8M745.0 783.7V839.5M747.0 799.6V859.4M749.0 785.4V880.5M751.0 787.0V853.5M753.0 776.8V888.7M755.0 804.0V856.4M757.0 798.2V839.9M759.0 798.4V839.8M761.0 766.0V842.8M763.0 787.7V858.1M765.0 793.6V848.4M767.0 791.3V839.8M769.0 787.3V850.5M771.0 786.7V856.6M773.0 793.8V877.9M775.0 795.8V871.8M777.0 790.6V850.9M779.0 790.6V861.5M781.0 778.6V854.5M783.0 797.0V852.0M785.0 796.0V845.4M787.0 795.2V855.8M789.0 791.5V834.1M791.0 766.2V848.7M793.0 762.8V868.7M795.0 777.3V856.2M797.0 766.4V850.1M799.0 789.1V844.4M801.0 806.6V845.8M803.0 775.3V843.7M805.0 796.0V886.6M807.0 801.8V829.4M809.0 778.1V860.8M811.0 779.1V859.8M813.0 784.0V841.6M815.0 790.0V849.2M817.0 780.4V846.5M819.0 774.3V854.2M821.0 778.8V860.3M823.0 771.0V851.1M825.0 778.8V829.1M827.0 762.9V844.0M829.0 789.1V849.7M831.0 775.6V832.1M833.0 782.2V866.3M835.0 777.3V855.0M837.0 770.5V837.3M839.0 784.4V824.2M841.0 741.4V846.8M843.0 771.4V838.7M845.0 767.0V844.5M847.0 765.7V851.4M849.0 738.3V840.9M851.0 770.5V845.2M853.0 749.2V830.0M855.0 782.6V821.4M857.0 755.3V830.4M859.0 771.3V843.4M861.0 767.5V831.0M863.0 764.7V820.6M865.0 763.8V822.6M867.0 759.5V840.1M869.0 758.8V818.1M871.0 751.6V803.9M873.0 746.8V826.9M875.0 742.3V815.3M877.0 758.6V809.2M879.0 754.9V816.9M881.0 765.4V806.1M883.0 750.6V810.6M885.0 757.2V855.6M887.0 755.3V796.8M889.0 740.6V830.7M891.0 719.8V801.5M893.0 745.3V808.2M895.0 732.1V819.3M897.0 745.1V801.6M899.0 755.0V817.3M901.0 736.9V816.8M903.0 755.7V806.1M905.0 690.0V805.7M907.0 736.2V808.2M909.0 747.6V809.7M911.0 756.3V807.8M913.0 747.8V822.2M915.0 753.9V812.2M917.0 750.6V816.8M919.0 739.5V812.3M921.0 760.5V807.5M923.0 730.3V808.9M925.0 748.0V806.2M927.0 766.9V817.9M929.0 751.1V818.1M931.0 756.0V809.9M933.0 744.5V799.0M935.0 725.7V816.3M937.0 753.8V817.0M939.0 734.7V809.0M941.0 741.9V802.0M943.0 736.0V808.6M945.0 752.2V819.2M947.0 740.2V807.1M949.0 741.6V842.3M951.0 743.5V806.6M953.0 735.8V801.8M955.0 735.2V840.0M957.0 733.4V812.9M959.0 756.8V838.3M961.0 738.4V812.8M963.0 733.3V815.7M965.0 727.1V797.1M967.0 746.4V792.2M969.0 733.6V807.5M971.0 728.7V798.4M973.0 731.3V818.6M975.0 730.6V796.6M977.0 745.6V803.2M979.0 731.5V803.8M981.0 728.9V819.3M983.0 722.7V809.9M985.0 722.1V816.0M987.0 732.1V818.4M989.0 742.5V787.1M991.0 723.2V816.1M993.0 734.7V809.7M995.0 699.7V827.6M997.0 742.9V804.2M999.0 729.2V802.7M1001.0 720.8V803.7M1003.0 690.3V788.5M1005.0 727.0V795.3M1007.0 720.3V792.8M1009.0 746.1V804.6M1011.0 718.8V802.6M1013.0 721.2V793.0M1015.0 718.1V779.9M1017.0 719.4V795.8M1019.0 715.7V787.2M1021.0 726.6V783.1M1023.0 720.3V771.2M1025.0 727.3V795.1M1027.0 726.0V779.8M1029.0 716.0V801.6M1031.0 717.3V772.5M1033.0 691.9V764.5M1035.0 699.7V782.5M1037.0 703.7V792.3M1039.0 705.1V787.1M1041.0 721.7V771.0M1043.0 714.9V773.2M1045.0 694.4V801.2M1047.0 708.8V789.3M1049.0 736.2V798.2M1051.0 676.5V819.8M1053.0 672.8V794.6M1055.0 708.5V797.4M1057.0 693.9V789.7M1059.0 691.5V781.2M1061.0 716.0V781.2M1063.0 690.7V781.3M1065.0 697.6V777.4M1067.0 686.1V777.7M1069.0 709.0V776.1M1071.0 710.6V755.4M1073.0 689.1V780.7M1075.0 705.1V754.0M1077.0 685.8V758.2M1079.0 691.1V756.9M1081.0 705.5V762.2M1083.0 681.8V768.7M1085.0 711.6V755.8M1087.0 702.2V758.4M1089.0 686.6V759.7M1091.0 688.7V743.9M1093.0 675.6V751.6M1095.0 699.4V752.1M1097.0 705.3V762.5M1099.0 695.9V755.7M1101.0 675.8V747.8M1103.0 671.8V740.0M1105.0 682.2V745.0M1107.0 678.1V759.9M1109.0 662.6V744.2M1111.0 665.5V759.6M1113.0 671.8V735.3M1115.0 689.1V737.3M1117.0 660.1V735.1M1119.0 630.3V736.8M1121.0 668.4V727.9M1123.0 666.6V720.6M1125.0 666.3V724.2M1127.0 612.4V718.4M1129.0 669.8V728.6M1131.0 669.6V723.4M1133.0 665.3V728.6M1135.0 655.4V722.2M1137.0 628.4V746.8M1139.0 668.3V721.9M1141.0 667.5V743.3M1143.0 662.6V729.8M1145.0 658.2V734.4M1147.0 669.1V743.3M1149.0 675.0V723.3M1151.0 665.9V740.8M1153.0 682.9V740.9M1155.0 680.8V731.9M1157.0 664.0V736.5M1159.0 648.0V729.8M1161.0 678.3V729.2M1163.0 653.6V747.2M1165.0 670.6V724.6M1167.0 664.6V725.2M1169.0 644.8V735.8M1171.0 645.5V722.7M1173.0 669.0V721.4M1175.0 662.2V727.2M1177.0 662.6V719.5M1179.0 632.7V745.4M1181.0 655.3V732.0M1183.0 669.2V723.5M1185.0 657.1V716.3M1187.0 657.5V725.5M1189.0 669.9V708.4M1191.0 655.8V738.2M1193.0 657.4V736.0M1195.0 655.1V742.1M1197.0 663.4V725.7M1199.0 663.4V729.7M1201.0 664.8V723.1M1203.0 644.6V726.9M1205.0 665.5V709.9M1207.0 661.9V730.6M1209.0 661.9V719.9M1211.0 659.8V734.6M1213.0 652.3V709.7M1215.0 654.8V714.9M1217.0 655.3V716.6M1219.0 666.1V729.2M1221.0 658.1V726.8M1223.0 653.3V717.5M1225.0 648.4V713.0M1227.0 651.1V725.4M1229.0 659.2V712.1M1231.0 657.3V725.7M1233.0 641.2V720.1M1235.0 640.8V701.6M1237.0 648.2V731.4M1239.0 625.2V714.8M1241.0 662.8V714.3M1243.0 631.2V699.6M1245.0 666.7V698.0M1247.0 638.2V716.4M1249.0 645.0V724.7M1251.0 640.8V718.9M1253.0 659.0V720.1M1255.0 655.8V708.2M1257.0 647.1V704.1M1259.0 615.5V708.2M1261.0 645.2V713.1M1263.0 658.5V721.0M1265.0 673.1V699.4M1267.0 661.4V736.4M1269.0 657.5V723.3M1271.0 648.3V716.0M1273.0 659.4V736.5M1275.0 654.1V742.5M1277.0 660.3V700.0M1279.0 654.3V712.4M1281.0 670.2V710.0M1283.0 644.1V710.2M1285.0 653.6V708.4M1287.0 644.3V711.5M1289.0 624.3V706.8M1291.0 644.8V696.5M1293.0 632.7V698.2M1295.0 650.5V710.5M1297.0 645.6V712.0M1299.0 655.8V752.1M1301.0 641.2V716.6M1303.0 648.6V715.1M1305.0 665.8V722.3M1307.0 643.1V725.8M1309.0 661.4V719.8M1311.0 693.7V747.5M1313.0 690.6V741.4M1315.0 696.8V767.8M1317.0 681.3V800.1M1319.0 703.2V753.9M1321.0 684.0V778.7M1323.0 720.8V796.1M1325.0 750.1V839.0M1327.0 743.1V804.6M1329.0 734.8V804.6M1331.0 760.7V783.9M1333.0 745.4V807.1M1335.0 759.7V819.2M1337.0 751.2V813.6M1339.0 730.3V822.1M1341.0 759.5V862.0M1343.0 748.9V824.2M1345.0 772.5V831.9M1347.0 723.9V819.6M1349.0 772.6V832.1M1351.0 742.1V831.4M1353.0 769.8V827.3M1355.0 771.7V833.2M1357.0 767.2V856.8M1359.0 775.2V840.6M1361.0 777.2V844.8M1363.0 782.1V857.4M1365.0 778.1V844.9M1367.0 750.2V853.5M1369.0 799.3V874.4M1371.0 802.5V857.1M1373.0 779.3V868.6M1375.0 797.9V855.3M1377.0 800.0V869.3M1379.0 793.3V861.1M1381.0 800.3V871.5M1383.0 815.7V881.6M1385.0 802.2V874.6M1387.0 823.5V873.9M1389.0 824.7V866.3M1391.0 812.0V885.9M1393.0 811.4V878.4M1395.0 841.3V878.1M1397.0 812.6V887.6M1399.0 806.7V876.1M1401.0 807.4V895.7M1403.0 826.8V896.2M1405.0 830.2V872.8M1407.0 820.6V888.8M1409.0 838.9V870.3M1411.0 828.6V887.5M1413.0 832.8V884.0M1415.0 826.5V881.3M1417.0 835.8V892.1M1419.0 837.1V925.2M1421.0 834.4V881.3M1423.0 835.6V897.8M1425.0 818.9V883.8M1427.0 821.7V889.7M1429.0 833.0V902.4M1431.0 811.3V870.8M1433.0 820.4V892.5M1435.0 817.8V897.6M1437.0 822.9V895.6M1439.0 827.4V895.5M1441.0 822.5V891.8M1443.0 833.3V876.2M1445.0 838.6V896.3M1447.0 822.4V888.6M1449.0 837.7V892.4M1451.0 855.6V899.4M1453.0 840.9V899.1M1455.0 843.4V900.4M1457.0 840.6V901.4M1459.0 851.1V912.3M1461.0 849.3V930.5M1463.0 836.5V921.9M1465.0 829.6V921.5M1467.0 867.4V921.5M1469.0 859.7V920.5M1471.0 881.7V948.3M1473.0 880.3V944.8M1475.0 898.0V959.5M1477.0 907.7V966.5M1479.0 929.4V990.7M1481.0 939.7V1002.9M1483.0 959.2V1030.7M1485.0 960.7V1027.5M1487.0 982.4V1031.9M1489.0 992.4V1046.4M1491.0 984.0V1054.7M1493.0 1013.6V1078.5M1495.0 1017.1V1094.3M1497.0 1028.4V1106.2M1499.0 1038.3V1114.8M1501.0 1063.9V1127.9M1503.0 1075.2V1124.3M1505.0 1090.0V1145.2M1507.0 1085.7V1175.1M1509.0 1130.7V1192.5M1511.0 1115.2V1198.1M1513.0 1147.9V1200.5M1515.0 1159.2V1210.3M1517.0 1192.8V1252.5M1518.8 1214.1V1262.1"/><path fill="none" stroke="#0000ff" stroke-width="2.3" d="M1252.6 598V660M311 748V790"/><path fill="none" stroke="#000000" stroke-width="2.45" d="M257.0 1372.0V1411.4M259.0 1334.6V1375.4M261.0 1298.4V1338.3M263.0 1264.7V1301.5M265.0 1231.3V1268.5M267.0 1197.9V1234.6M269.0 1164.4V1201.7M271.0 1131.9V1168.4M273.0 1098.7V1135.6M275.0 1068.4V1101.3M277.0 1038.6V1072.0M279.0 1018.1V1043.2M281.0 994.7V1028.3M283.0 990.3V1025.9M285.0 991.4V1013.7M287.0 981.5V1020.2M289.0 950.5V1015.5M291.0 970.3V1025.7M293.0 944.3V1015.2M295.0 954.3V990.0M297.0 938.2V1009.1M299.0 918.6V1000.7M301.0 941.3V990.0M303.0 937.3V1012.0M305.0 925.4V996.4M307.0 939.0V1003.1M309.0 919.1V1011.7M311.0 910.1V1025.1M313.0 917.3V974.8M315.0 923.1V991.9M317.0 929.7V999.8M319.0 920.7V1019.7M321.0 943.1V1014.7M323.0 930.3V1008.6M325.0 941.6V1006.1M327.0 939.6V1018.9M329.0 938.7V996.3M331.0 943.9V1013.8M333.0 929.0V1004.1M335.0 928.5V1001.1M337.0 930.6V1039.8M339.0 938.3V1018.0M341.0 935.1V1001.7M343.0 935.7V1008.7M345.0 940.3V1005.3M347.0 911.2V996.0M349.0 913.4V998.0M351.0 897.0V1021.5M353.0 892.6V988.2M355.0 907.2V986.6M357.0 922.1V993.0M359.0 884.5V984.8M361.0 908.4V989.6M363.0 883.9V986.4M365.0 910.7V996.4M367.0 874.7V992.0M369.0 878.8V1002.9M371.0 895.0V985.4M373.0 908.9V993.7M375.0 902.5V975.8M377.0 884.1V1008.1M379.0 925.8V1004.1M381.0 905.1V990.1M383.0 901.9V983.6M385.0 898.0V1007.6M387.0 876.0V963.8M389.0 890.2V990.8M391.0 897.4V990.1M393.0 880.7V979.9M395.0 858.2V992.8M397.0 894.1V1010.1M399.0 907.7V1002.2M401.0 929.3V1016.0M403.0 890.9V997.2M405.0 896.9V1000.9M407.0 913.6V981.5M409.0 889.0V1003.4M411.0 927.0V1003.2M413.0 924.6V989.3M415.0 926.2V1003.7M417.0 908.6V1003.3M419.0 915.0V1001.7M421.0 915.4V1016.4M423.0 925.7V1013.1M425.0 913.4V1002.1M427.0 905.8V1012.1M429.0 918.8V998.4M431.0 905.8V1042.5M433.0 932.9V974.4M435.0 867.0V995.5M437.0 896.1V982.9M439.0 914.9V988.6M441.0 927.5V986.9M443.0 881.7V992.3M445.0 915.2V993.8M447.0 897.5V987.5M449.0 894.1V1021.0M451.0 891.7V1013.1M453.0 877.5V1010.1M455.0 924.3V991.0M457.0 921.0V992.4M459.0 910.8V1021.3M461.0 908.6V1003.2M463.0 867.6V978.8M465.0 909.7V986.0M467.0 929.3V994.8M469.0 912.1V999.9M471.0 876.3V977.3M473.0 911.0V996.1M475.0 869.3V995.7M477.0 888.1V974.0M479.0 914.4V970.5M481.0 899.7V993.6M483.0 895.2V981.1M485.0 898.1V956.0M487.0 876.5V981.7M489.0 916.0V1013.8M491.0 882.8V985.1M493.0 898.3V993.1M495.0 891.5V973.2M497.0 913.4V981.0M499.0 867.2V988.0M501.0 910.6V995.5M503.0 885.2V1058.3M505.0 894.2V1041.8M507.0 887.9V1000.5M509.0 924.3V985.5M511.0 906.8V983.7M513.0 924.6V984.0M515.0 855.0V997.8M517.0 906.7V978.8M519.0 910.4V1007.9M521.0 879.3V1014.6M523.0 899.6V999.2M525.0 898.4V1002.0M527.0 922.5V988.2M529.0 892.4V984.2M531.0 908.6V1019.0M533.0 908.5V990.2M535.0 918.1V1047.8M537.0 901.1V986.8M539.0 888.0V982.4M541.0 882.6V991.9M543.0 860.4V967.4M545.0 879.3V984.1M547.0 895.5V987.1M549.0 897.9V959.6M551.0 893.7V975.1M553.0 876.5V961.0M555.0 914.3V962.1M557.0 913.5V984.1M559.0 901.6V988.5M561.0 913.3V1015.6M563.0 926.0V1002.2M565.0 925.2V1004.3M567.0 947.1V995.9M569.0 945.4V1008.6M571.0 957.6V1004.5M573.0 931.7V1012.2M575.0 957.5V1022.2M577.0 962.9V1028.1M579.0 969.2V1036.3M581.0 978.6V1043.9M583.0 978.5V1044.6M585.0 997.2V1034.7M587.0 1000.0V1049.5M589.0 1004.5V1052.9M591.0 1006.5V1063.1M593.0 1023.4V1065.1M595.0 1011.4V1087.0M597.0 1033.2V1091.5M599.0 1055.6V1120.5M601.0 1076.6V1173.2M603.0 1135.7V1241.9M605.0 1209.0V1291.5M607.0 1261.7V1324.0M609.0 1304.6V1360.0M611.0 1336.9V1389.1M613.0 1373.1V1399.4M615.0 1386.5V1412.9"/><polygon fill="#000" stroke="#000" stroke-width="1" points="603.8,1250 608.3,1265 610.3,1305 613.3,1331 615,1335 617.4,1341 619,1351 621,1345 623.4,1347 624.5,1362 626,1352 628.5,1353 630,1372 632.5,1373 635,1376 637,1372 639,1369 641.2,1369 641.8,1409 616,1409 612,1397 608,1377 605.8,1356 603.8,1300"/><path fill="none" stroke="#8000ff" stroke-width="2.45" d="M257.0 1368.1V1411.8M259.0 1327.6V1372.5M261.0 1288.0V1331.5M263.0 1245.8V1291.3M265.0 1203.4V1248.8M267.0 1160.3V1206.4M269.0 1118.2V1164.0M271.0 1077.9V1121.6M273.0 1038.6V1081.4M275.0 998.2V1041.5M277.0 963.5V1002.3M279.0 927.6V966.3M281.0 906.4V933.3M283.0 881.6V920.9M285.0 872.9V904.2M287.0 858.3V901.5M289.0 840.3V893.1M291.0 849.3V878.4M293.0 833.5V895.1M295.0 831.2V901.0M297.0 859.1V904.0M299.0 853.9V900.0M301.0 860.5V910.6M303.0 845.9V915.9M305.0 858.5V911.8M307.0 848.2V915.0M309.0 869.0V949.7M311.0 879.4V948.8M313.0 843.2V928.3M315.0 865.0V929.6M317.0 872.2V938.5M319.0 877.7V945.2M321.0 885.5V967.0M323.0 883.3V944.4M325.0 893.2V950.0M327.0 897.9V949.9M329.0 890.2V939.6M331.0 899.0V943.0M333.0 910.3V954.9M335.0 877.4V975.3M337.0 890.8V941.9M339.0 900.6V949.8M341.0 906.9V956.6M343.0 910.4V963.3M345.0 925.1V970.4M347.0 906.6V968.9M349.0 895.7V960.5M351.0 894.6V984.8M353.0 918.8V977.3M355.0 927.7V976.7M357.0 932.8V973.4M359.0 893.8V973.7M361.0 925.9V979.8M363.0 922.9V991.9M365.0 936.7V991.7M367.0 924.4V984.4M369.0 936.8V969.7M371.0 911.1V984.4M373.0 913.6V983.2M375.0 930.8V971.3M377.0 890.6V980.0M379.0 935.1V969.3M381.0 920.1V986.7M383.0 929.3V968.9M385.0 934.9V985.7M387.0 917.8V989.1M389.0 920.2V1009.4M391.0 930.0V978.9M393.0 926.3V991.8M395.0 918.0V987.4M397.0 936.6V992.7M399.0 926.0V1011.7M401.0 929.8V980.3M403.0 930.6V983.5M405.0 905.7V968.5M407.0 914.5V967.6M409.0 926.8V976.4M411.0 913.4V975.4M413.0 924.0V982.8M415.0 931.9V976.2M417.0 913.7V965.9M419.0 913.3V970.7M421.0 931.1V981.1M423.0 933.0V970.5M425.0 923.2V992.1M427.0 928.9V970.8M429.0 919.5V978.3M431.0 931.8V978.1M433.0 912.3V986.0M435.0 911.2V975.4M437.0 927.2V996.9M439.0 924.1V966.7M441.0 921.8V974.6M443.0 934.2V970.4M445.0 911.5V979.3M447.0 930.1V981.5M449.0 921.6V971.7M451.0 928.7V978.6M453.0 910.4V970.5M455.0 927.3V990.6M457.0 928.1V969.6M459.0 914.5V979.7M461.0 923.4V969.7M463.0 917.2V977.6M465.0 914.3V963.1M467.0 921.9V973.1M469.0 920.2V977.2M471.0 924.7V971.2M473.0 930.4V963.2M475.0 879.9V979.0M477.0 919.5V971.0M479.0 917.7V997.1M481.0 918.4V976.1M483.0 917.6V976.5M485.0 916.5V962.4M487.0 924.0V1003.2M489.0 924.7V993.7M491.0 927.5V977.3M493.0 916.1V989.9M495.0 930.5V971.8M497.0 928.5V986.1M499.0 921.5V978.0M501.0 912.3V987.3M503.0 931.5V987.9M505.0 929.2V963.8M507.0 927.3V977.6M509.0 908.2V974.2M511.0 920.5V961.9M513.0 895.7V969.3M515.0 907.3V967.3M517.0 925.6V969.4M519.0 910.0V975.0M521.0 914.6V954.8M523.0 903.0V988.3M525.0 929.8V958.2M527.0 912.5V955.8M529.0 908.1V963.7M531.0 911.8V971.0M533.0 900.2V960.5M535.0 895.3V976.6M537.0 899.3V962.0M539.0 896.2V953.4M541.0 877.7V959.1M543.0 916.0V960.3M545.0 887.5V956.1M547.0 919.2V963.5M549.0 911.2V965.5M551.0 905.9V963.5M553.0 912.3V958.1M555.0 900.3V974.9M557.0 903.0V965.9M559.0 900.0V972.6M561.0 899.0V955.3M563.0 903.2V947.6M565.0 892.4V957.4M567.0 896.3V946.3M569.0 879.5V945.2M571.0 894.4V938.3M573.0 887.0V956.0M575.0 883.5V942.9M577.0 860.0V947.9M579.0 878.5V937.3M581.0 885.4V952.8M583.0 883.3V940.6M585.0 876.9V928.1M587.0 896.7V946.6M589.0 872.4V943.3M591.0 900.5V940.5M593.0 888.5V934.5M595.0 872.9V943.5M597.0 879.7V939.2M599.0 883.3V939.9M601.0 869.5V946.7M603.0 895.1V926.8M605.0 871.0V938.8M607.0 871.7V941.6M609.0 894.3V939.8M611.0 889.3V941.3M613.0 857.7V946.6M615.0 879.0V934.7M617.0 881.9V947.7M619.0 883.4V947.2M621.0 900.2V939.5M623.0 877.0V949.1M625.0 900.0V944.2M627.0 890.3V950.0M629.0 886.8V936.8M631.0 890.2V947.9M633.0 896.4V957.1M635.0 887.8V966.3M637.0 902.2V943.1M639.0 886.2V936.2M641.0 897.4V949.1M643.0 881.9V947.7M645.0 878.1V935.1M647.0 881.9V920.3M649.0 878.4V922.3M651.0 865.7V916.6M653.0 894.9V926.2M655.0 882.9V948.3M657.0 878.2V935.5M659.0 865.7V922.0M661.0 872.3V931.0M663.0 876.3V918.8M665.0 869.0V923.9M667.0 881.5V940.2M669.0 868.2V927.3M671.0 868.0V938.4M673.0 863.0V940.9M675.0 860.9V921.1M677.0 867.2V914.3M679.0 869.6V925.5M681.0 864.9V922.0M683.0 861.8V932.0M685.0 851.5V927.8M687.0 875.6V925.0M689.0 876.6V927.7M691.0 839.6V951.4M693.0 855.0V918.9M695.0 869.3V896.9M697.0 869.6V909.6M699.0 851.3V902.1M701.0 844.5V909.5M703.0 852.8V906.2M705.0 822.5V908.3M707.0 839.7V902.1M709.0 853.3V896.9M711.0 855.4V894.9M713.0 826.6V901.6M715.0 857.4V907.9M717.0 852.2V914.3M719.0 838.5V887.9M721.0 829.3V895.9M723.0 827.2V894.1M725.0 832.0V926.4M727.0 849.9V879.3M729.0 839.8V892.5M731.0 834.5V892.7M733.0 856.4V894.6M735.0 851.8V882.1M737.0 854.2V898.9M739.0 837.3V898.8M741.0 845.8V889.2M743.0 838.9V891.7M745.0 829.1V877.2M747.0 842.2V884.8M749.0 849.9V878.9M751.0 824.8V916.2M753.0 836.4V881.5M755.0 804.2V896.3M757.0 832.6V885.2M759.0 824.7V887.2M761.0 823.1V886.4M763.0 815.6V874.1M765.0 820.2V877.0M767.0 827.9V868.4M769.0 827.8V873.4M771.0 821.2V874.9M773.0 807.2V881.1M775.0 823.5V863.9M777.0 815.4V859.3M779.0 828.5V879.9M781.0 815.3V869.4M783.0 810.9V864.6M785.0 814.3V869.7M787.0 810.1V866.2M789.0 815.6V870.9M791.0 822.8V859.7M793.0 811.1V866.3M795.0 771.5V867.7M797.0 814.0V869.0M799.0 814.0V865.5M801.0 807.8V865.0M803.0 812.3V866.6M805.0 816.4V861.5M807.0 806.8V870.9M809.0 802.9V862.6M811.0 814.2V879.5M813.0 807.8V862.3M815.0 796.4V857.6M817.0 810.8V870.5M819.0 810.5V872.1M821.0 804.1V870.9M823.0 813.6V866.2M825.0 812.2V871.5M827.0 814.6V859.8M829.0 810.0V861.8M831.0 808.1V860.2M833.0 809.7V861.3M835.0 808.3V851.0M837.0 806.3V862.8M839.0 808.7V859.1M841.0 809.4V870.4M843.0 803.4V878.1M845.0 790.3V864.3M847.0 812.3V861.1M849.0 797.7V854.4M851.0 791.0V866.4M853.0 784.7V859.3M855.0 823.8V864.4M857.0 809.8V858.7M859.0 807.5V851.9M861.0 802.1V860.5M863.0 815.7V860.3M865.0 789.7V861.7M867.0 803.5V864.3M869.0 798.5V849.7M871.0 802.3V852.8M873.0 797.6V838.6M875.0 789.3V857.0M877.0 799.4V847.9M879.0 798.5V835.5M881.0 786.9V847.2M883.0 789.3V850.6M885.0 808.4V856.7M887.0 793.6V850.9M889.0 794.6V847.6M891.0 795.8V847.1M893.0 803.3V847.8M895.0 799.7V853.1M897.0 801.5V843.0M899.0 802.5V841.4M901.0 790.3V847.6M903.0 798.9V852.2M905.0 783.1V847.7M907.0 776.1V836.7M909.0 789.1V826.3M911.0 753.3V832.4M913.0 773.7V829.9M915.0 782.6V835.1M917.0 773.7V838.6M919.0 764.3V844.7M921.0 777.3V829.1M923.0 779.4V832.7M925.0 768.2V821.6M927.0 781.5V835.8M929.0 776.1V828.1M931.0 782.4V826.1M933.0 773.8V823.3M935.0 756.6V831.0M937.0 778.6V821.9M939.0 773.9V830.1M941.0 778.3V832.3M943.0 776.1V833.2M945.0 767.8V833.4M947.0 783.3V822.6M949.0 774.6V817.2M951.0 778.4V820.5M953.0 776.5V827.4M955.0 764.2V855.8M957.0 768.1V817.5M959.0 754.0V822.2M961.0 778.5V818.0M963.0 743.7V821.1M965.0 769.8V836.6M967.0 764.8V829.1M969.0 772.1V817.0M971.0 774.2V812.5M973.0 761.1V831.5M975.0 757.7V805.5M977.0 768.4V809.7M979.0 764.7V842.5M981.0 763.3V814.3M983.0 768.5V818.1M985.0 736.8V807.5M987.0 758.9V801.4M989.0 756.6V820.5M991.0 761.0V814.3M993.0 758.9V804.7M995.0 765.3V848.6M997.0 758.4V806.8M999.0 763.8V822.8M1001.0 767.0V802.5M1003.0 770.4V815.7M1005.0 746.8V821.9M1007.0 756.6V827.7M1009.0 750.4V815.8M1011.0 755.1V809.7M1013.0 752.2V822.8M1015.0 774.8V814.9M1017.0 751.2V829.5M1019.0 751.7V813.9M1021.0 773.7V808.8M1023.0 762.1V822.6M1025.0 748.1V832.2M1027.0 760.5V814.5M1029.0 765.0V805.8M1031.0 766.5V819.3M1033.0 766.3V825.5M1035.0 767.1V814.6M1037.0 758.3V821.4M1039.0 765.1V821.2M1041.0 743.4V822.9M1043.0 766.6V812.4M1045.0 755.5V818.4M1047.0 761.1V818.2M1049.0 767.6V826.9M1051.0 759.7V822.4M1053.0 761.5V827.5M1055.0 750.9V821.7M1057.0 763.0V818.6M1059.0 766.5V815.6M1061.0 760.6V807.7M1063.0 770.0V812.6M1065.0 757.2V818.5M1067.0 753.7V809.6M1069.0 751.6V808.2M1071.0 739.4V802.0M1073.0 756.0V814.8M1075.0 722.7V812.1M1077.0 752.6V806.1M1079.0 750.5V800.0M1081.0 754.5V814.4M1083.0 754.9V809.1M1085.0 752.5V805.0M1087.0 754.6V807.8M1089.0 757.5V805.5M1091.0 749.3V807.3M1093.0 754.9V805.1M1095.0 749.6V802.9M1097.0 747.9V798.1M1099.0 742.0V807.8M1101.0 745.6V812.1M1103.0 744.3V819.0M1105.0 752.3V791.5M1107.0 747.6V797.1M1109.0 742.3V797.5M1111.0 727.0V797.7M1113.0 729.2V786.8M1115.0 748.1V804.6M1117.0 733.6V778.5M1119.0 738.4V798.5M1121.0 729.1V786.7M1123.0 729.1V792.7M1125.0 721.0V786.6M1127.0 736.1V785.5M1129.0 701.1V775.9M1131.0 747.5V790.8M1133.0 735.7V803.8M1135.0 738.3V787.2M1137.0 728.4V780.3M1139.0 710.0V795.0M1141.0 736.2V799.2M1143.0 732.9V789.6M1145.0 742.5V808.5M1147.0 731.9V778.1M1149.0 734.2V786.8M1151.0 748.0V791.9M1153.0 738.0V801.4M1155.0 744.0V806.4M1157.0 740.7V801.9M1159.0 749.5V825.5M1161.0 741.0V804.3M1163.0 739.3V786.9M1165.0 735.3V796.6M1167.0 750.3V785.9M1169.0 742.3V799.9M1171.0 743.6V799.9M1173.0 743.1V802.5M1175.0 740.4V797.9M1177.0 735.9V790.7M1179.0 738.3V786.3M1181.0 757.4V800.3M1183.0 722.2V794.9M1185.0 741.3V795.6M1187.0 752.3V825.2M1189.0 747.7V792.9M1191.0 735.0V781.3M1193.0 718.8V788.9M1195.0 747.7V800.9M1197.0 740.7V824.8M1199.0 749.8V794.1M1201.0 756.4V834.3M1203.0 745.1V810.5M1205.0 744.4V808.3M1207.0 745.3V807.7M1209.0 758.5V798.6M1211.0 750.9V804.7M1213.0 754.0V813.0M1215.0 757.7V800.8M1217.0 753.3V815.3M1219.0 752.6V810.7M1221.0 738.0V819.5M1223.0 749.0V816.4M1225.0 753.8V792.1M1227.0 757.1V820.9M1229.0 752.3V824.0M1231.0 756.3V811.1M1233.0 755.0V812.4M1235.0 762.4V825.8M1237.0 777.1V822.9M1239.0 773.7V839.1M1241.0 777.1V833.8M1243.0 797.6V872.4M1245.0 799.1V854.6M1247.0 825.9V865.6M1249.0 816.9V870.0M1251.0 824.6V880.5M1253.0 836.1V892.6M1255.0 835.8V877.1M1257.0 828.3V905.7M1259.0 839.8V890.3M1261.0 853.1V905.0M1263.0 854.7V902.8M1265.0 862.6V906.8M1267.0 848.5V935.1M1269.0 852.6V908.7M1271.0 859.7V906.1M1273.0 869.4V918.7M1275.0 871.1V919.6M1277.0 859.7V928.0M1279.0 851.4V921.5M1281.0 868.6V924.3M1283.0 859.4V919.3M1285.0 850.9V912.9M1287.0 878.6V923.0M1289.0 877.5V940.3M1291.0 889.6V934.5M1293.0 876.1V931.0M1295.0 892.0V930.5M1297.0 884.0V929.4M1299.0 890.8V941.4M1301.0 888.3V932.9M1303.0 892.5V946.0M1305.0 893.3V951.9M1307.0 884.6V941.3M1309.0 886.3V946.1M1311.0 903.7V941.7M1313.0 902.7V951.1M1315.0 900.2V951.1M1317.0 904.5V951.7M1319.0 901.9V951.0M1321.0 911.5V957.2M1323.0 913.7V951.9M1325.0 915.2V957.5M1327.0 909.1V962.0M1329.0 920.3V986.5M1331.0 924.5V956.0M1333.0 930.2V968.1M1335.0 933.3V992.5M1337.0 953.8V988.9M1339.0 949.0V1035.0M1341.0 996.6V1057.9M1343.0 992.7V1063.7M1345.0 1015.4V1078.9M1347.0 1033.2V1086.7M1349.0 1043.1V1103.7M1351.0 1063.7V1109.7M1353.0 1064.7V1148.8M1355.0 1102.8V1152.5M1357.0 1112.8V1170.0M1359.0 1137.8V1193.9M1361.0 1155.8V1211.9M1363.0 1168.1V1233.1M1365.0 1197.5V1265.2M1367.0 1236.1V1307.9M1369.0 1268.6V1319.5M1371.0 1293.1V1336.7M1373.0 1287.3V1352.0M1375.0 1318.0V1383.1M1377.0 1352.9V1400.6M1379.0 1383.9V1413.7"/></g>
<g><path d="M249.5,54.9V1413.1M246.9,1410.5H2114.6M246.9,57.5H2114.6M2112,54.9V1413.1" stroke="#000" stroke-width="5.2" fill="none"/><path d="M256.5,1410.5V1436.5 M399.2,1410.5V1423.5 M541.9,1410.5V1436.5 M684.6,1410.5V1423.5 M827.3,1410.5V1436.5 M970.0,1410.5V1423.5 M1112.7,1410.5V1436.5 M1255.4,1410.5V1423.5 M1398.1,1410.5V1436.5 M1540.8,1410.5V1423.5 M1683.5,1410.5V1436.5 M1826.2,1410.5V1423.5 M1968.9,1410.5V1436.5 M2111.6,1410.5V1423.5 M249.5,1410.3H219.5 M249.5,1297.5H234.5 M249.5,1184.8H219.5 M249.5,1072.0H234.5 M249.5,959.2H219.5 M249.5,846.4H234.5 M249.5,733.7H219.5 M249.5,620.9H234.5 M249.5,508.1H219.5 M249.5,395.4H234.5 M249.5,282.6H219.5 M249.5,169.8H234.5 M249.5,57.1H219.5" stroke="#000" stroke-width="5.2" fill="none"/></g>
<g><path d="M1270,582.8V53.2H2104V582.8" fill="none" stroke="#858585" stroke-width="3.4"/><path d="M1268.5,582.8H2105.5" fill="none" stroke="#5a5a5a" stroke-width="3"/><path d="M1280,109.6H1492" stroke="#000000" stroke-width="3.3"/><path d="M1280,213.7H1492" stroke="#ff0000" stroke-width="3.3"/><path d="M1280,317.8H1492" stroke="#00ff00" stroke-width="3.3"/><path d="M1280,421.9H1492" stroke="#0000ff" stroke-width="3.3"/><path d="M1280,526.0H1492" stroke="#8000ff" stroke-width="3.3"/></g>
<g><text transform="translate(1508.75,136.70) scale(0.8517,0.7540)">Pure PLA</text><text transform="translate(1508.35,240.90) scale(0.8176,0.7540)">PLA 97.5–CA 2.5</text><text transform="translate(1508.52,344.40) scale(0.8261,0.7540)">PLA 95–CA 5</text><text transform="translate(1508.35,449.40) scale(0.8176,0.7540)">PLA 92.5–CA 7.5</text><text transform="translate(1508.53,552.90) scale(0.8229,0.7540)">PLA 90-CA 10</text><text transform="translate(165.14,1423.10) scale(0.7143,0.6000)">0</text><text transform="translate(166.10,1197.56) scale(0.7250,0.6000)">2</text><text transform="translate(166.70,972.02) scale(0.6522,0.6000)">4</text><text transform="translate(165.76,746.48) scale(0.6860,0.6000)">6</text><text transform="translate(166.02,520.94) scale(0.6952,0.6000)">8</text><text transform="translate(134.00,295.40) scale(0.6667,0.6000)">10</text><text transform="translate(132.09,69.86) scale(0.7012,0.6000)">12</text><text transform="translate(238.60,1495.30) scale(0.7238,0.6000)">0</text><text transform="translate(508.04,1495.30) scale(0.6641,0.6000)">20</text><text transform="translate(794.49,1495.30) scale(0.6532,0.6000)">40</text><text transform="translate(1079.62,1495.30) scale(0.6446,0.6000)">60</text><text transform="translate(1364.13,1495.30) scale(0.6674,0.6000)">80</text><text transform="translate(1633.97,1495.30) scale(0.6591,0.6000)">100</text><text transform="translate(1919.53,1495.30) scale(0.6526,0.6000)">120</text><text transform="translate(880.00,1635.40) scale(0.8479,0.7580)">Tensile strain (%)</text><text transform="translate(96.4,1045.23) rotate(-90) scale(0.7643,0.8308)">Tensile stress (MPa)</text></g>
</svg>
</body></html>
